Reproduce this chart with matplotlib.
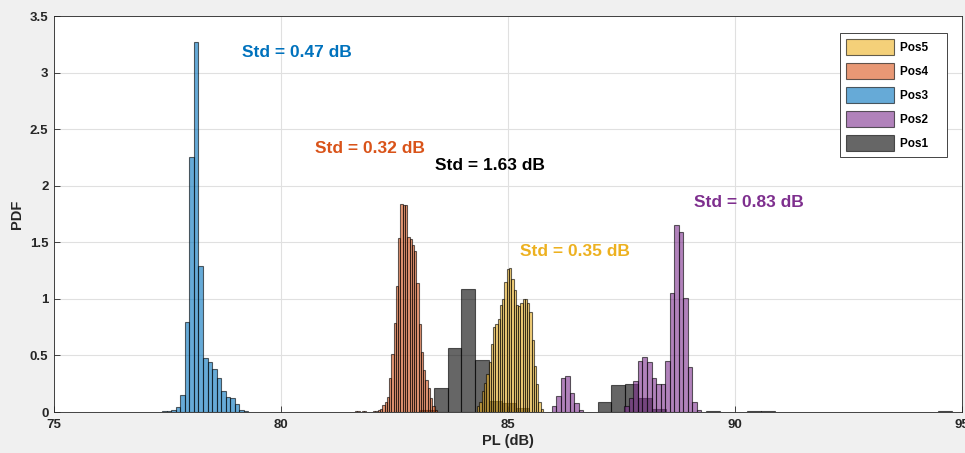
import numpy as np
import matplotlib.pyplot as plt

plt.rcParams['font.family'] = ['Liberation Sans', 'DejaVu Sans']

# histogram data: first bin edge, bin width, bin heights (PDF)
pos1_start, pos1_width = 83.07, 0.30
pos1_pdf = [0.015, 0.21, 0.57, 1.085, 0.457, 0.097, 0.08, 0.035, 0, 0,
            0, 0, 0, 0.09, 0.24, 0.25, 0.12, 0.027, 0, 0,
            0, 0.005, 0, 0, 0.01, 0.012, 0, 0, 0, 0,
            0, 0, 0, 0, 0, 0, 0, 0, 0.005]

pos2_start, pos2_width = 85.96, 0.10
pos2_pdf = [0.05, 0.14, 0.30, 0.32, 0.17, 0.08, 0.02, 0, 0, 0,
            0, 0, 0, 0, 0, 0, 0.05, 0.12, 0.27, 0.45,
            0.49, 0.445, 0.30, 0.25, 0.25, 0.45, 1.05, 1.65, 1.59, 1.005,
            0.40, 0.09, 0.02]

pos3_start, pos3_width = 77.38, 0.10
pos3_pdf = [0.005, 0.01, 0.02, 0.04, 0.15, 0.80, 2.25, 3.27, 1.29, 0.48,
            0.44, 0.38, 0.30, 0.19, 0.135, 0.12, 0.07, 0.02, 0.01]

pos4_start, pos4_width = 81.63, 0.05
pos4_pdf = [0.005, 0.005, 0, 0.005, 0.005, 0, 0, 0, 0.01, 0.01,
            0.015, 0.03, 0.06, 0.09, 0.135, 0.30, 0.51, 0.79, 1.11, 1.54,
            1.84, 1.83, 1.83, 1.55, 1.53, 1.48, 1.42, 1.14, 0.78, 0.53,
            0.37, 0.28, 0.21, 0.12, 0.055, 0.02]

pos5_start, pos5_width = 84.32, 0.05
pos5_pdf = [0.05, 0.09, 0.19, 0.26, 0.34, 0.44, 0.60, 0.75, 0.78, 0.82,
            0.95, 1.00, 1.15, 1.26, 1.27, 1.18, 1.08, 0.95, 0.94, 0.96,
            1.00, 1.00, 0.96, 0.88, 0.64, 0.41, 0.25, 0.09, 0.03]

series = [
    ('Pos1', pos1_start, pos1_width, pos1_pdf, '#000000'),
    ('Pos2', pos2_start, pos2_width, pos2_pdf, '#7E2F8E'),
    ('Pos3', pos3_start, pos3_width, pos3_pdf, '#0072BD'),
    ('Pos4', pos4_start, pos4_width, pos4_pdf, '#D95319'),
    ('Pos5', pos5_start, pos5_width, pos5_pdf, '#EDB120'),
]

std_labels = ['Std = 0.47 dB', 'Std = 0.32 dB', 'Std = 1.63 dB', 'Std = 0.35 dB', 'Std = 0.83 dB']
std_colors = ['#0072BD', '#D95319', '#000000', '#EDB120', '#7E2F8E']
std_x = [79.14, 80.75, 83.39, 85.26, 89.10]
std_y = [3.18, 2.33, 2.175, 1.415, 1.85]

fig = plt.figure(figsize=(9.65, 4.53), dpi=100, facecolor='#f0f0f0')
ax = fig.add_axes([0.056, 0.0905, 0.941, 0.874])

handles = {}
for name, start, width, pdf, color in series:
    pdf = np.array(pdf)
    left = start + width * np.arange(len(pdf))
    keep = pdf > 0
    bars = ax.bar(left[keep], pdf[keep], width=width, align='edge',
                  color=color, alpha=0.6, edgecolor='black', linewidth=0.8, zorder=2)
    handles[name] = bars

for txt, c, x, y in zip(std_labels, std_colors, std_x, std_y):
    ax.text(x, y, txt, color=c, fontsize=12.5, fontweight='bold', ha='left', va='center')

ax.set_xlim(75, 95)
ax.set_ylim(0, 3.5)
ax.set_xticks([75, 80, 85, 90, 95])
ax.set_yticks([0, 0.5, 1, 1.5, 2, 2.5, 3, 3.5])
ax.set_yticklabels(['0', '0.5', '1', '1.5', '2', '2.5', '3', '3.5'])
ax.grid(True, color='#e0e0e0', linewidth=0.8, zorder=0)
ax.set_axisbelow(True)
ax.tick_params(direction='in', length=4, width=0.6, color='#262626', labelsize=9.5)
ax.tick_params(axis='x', pad=5)
ax.tick_params(axis='y', pad=4)
for lab in ax.get_xticklabels() + ax.get_yticklabels():
    lab.set_fontweight('bold')
    lab.set_color('#262626')
for s in ax.spines.values():
    s.set_color('#262626')
    s.set_linewidth(0.6)

ax.set_xlabel('PL (dB)', fontsize=10.5, fontweight='bold', color='#262626', labelpad=2)
ax.set_ylabel('PDF', fontsize=10.5, fontweight='bold', color='#262626', labelpad=4)

order = ['Pos5', 'Pos4', 'Pos3', 'Pos2', 'Pos1']
leg = ax.legend([handles[n] for n in order], [n + '    ' for n in order], loc='upper right',
                bbox_to_anchor=(0.9835, 0.957), borderaxespad=0, fancybox=False, framealpha=1,
                edgecolor='#262626', prop={'weight': 'bold', 'size': 8.5},
                handlelength=4.1, handleheight=1.75, labelspacing=0.65,
                borderpad=0.5, handletextpad=0.5)
leg.get_frame().set_linewidth(0.6)

fig.savefig('out.png', dpi=100, facecolor=fig.get_facecolor())
